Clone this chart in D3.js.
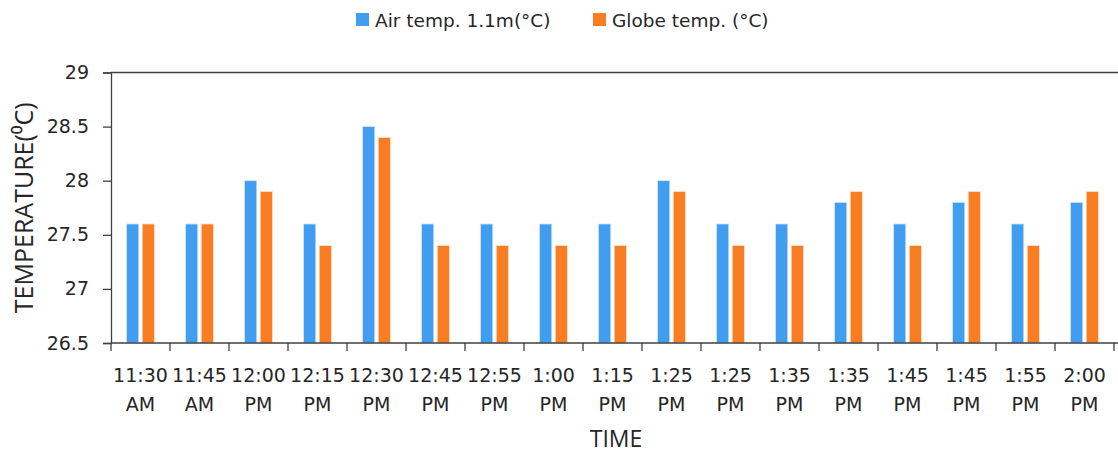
<!DOCTYPE html>
<html>
<head>
<meta charset="utf-8">
<script src="https://cdn.jsdelivr.net/npm/d3@7"></script>
<style>
  body { margin: 0; background: #fff; }
  svg text { font-family: "DejaVu Sans", sans-serif; fill: #262626; }
  svg text.title { font-family: "Open Sans", sans-serif; }
</style>
</head>
<body>
<script>
// categorieen (tijdstippen) en de twee reeksen
var times = ["11:30 AM", "11:45 AM", "12:00 PM", "12:15 PM", "12:30 PM", "12:45 PM", "12:55 PM", "1:00 PM", "1:15 PM", "1:25 PM", "1:25 PM", "1:35 PM", "1:35 PM", "1:45 PM", "1:45 PM", "1:55 PM", "2:00 PM"];
var airTemp = [27.6, 27.6, 28.0, 27.6, 28.5, 27.6, 27.6, 27.6, 27.6, 28.0, 27.6, 27.6, 27.8, 27.6, 27.8, 27.6, 27.8];
var globeTemp = [27.6, 27.6, 27.9, 27.4, 28.4, 27.4, 27.4, 27.4, 27.4, 27.9, 27.4, 27.4, 27.9, 27.4, 27.9, 27.4, 27.9];
var yTicks = [26.5, 27, 27.5, 28, 28.5, 29];
var seriesNames = ["Air temp. 1.1m(°C)", "Globe temp. (°C)"];
var seriesColors = ["#419DF0", "#F97D22"];

var width = 1118;
var height = 456;
var margin = {left: 111, right: 4, top: 72.5, bottom: 113};

var svg = d3.select("body").append("svg")
.attr("width", width)
.attr("height", height);

var x = d3.scaleBand()
.domain(d3.range(times.length))
.range([margin.left, width - margin.right]);

var y = d3.scaleLinear()
.domain([26.5, 29])
.range([height - margin.bottom, margin.top]);

var sub = d3.scaleBand()
.domain([0, 1])
.range([0, x.bandwidth()])
.paddingInner(0.22)
.paddingOuter(1.0);

// tabel met een rij per tijdstip
var rows = times.map((t, i) => ({i: i, vals: [airTemp[i], globeTemp[i]]}));

// bovenste lijn op 29
svg.append("line")
.attr("x1", margin.left).attr("x2", width)
.attr("y1", y(29)).attr("y2", y(29))
.attr("stroke", "#404040").attr("stroke-width", 1.3);

// balken
var groups = svg.selectAll("g.cat")
.data(rows)
.enter()
.append("g")
.attr("class", "cat")
.attr("transform", d => "translate(" + x(d.i) + ",0)");

groups.selectAll("rect")
.data(d => d.vals.map((v, k) => ({k: k, v: v})))
.enter()
.append("rect")
.attr("x", d => sub(d.k))
.attr("width", sub.bandwidth())
.attr("y", d => y(d.v))
.attr("height", d => y(26.5) - y(d.v))
.attr("fill", d => seriesColors[d.k])
.attr("stroke", d => d.k == 0 ? "#cfe6fb" : "#fde0c9")
.attr("stroke-width", 0.8);

// y-as
var yAxis = svg.append("g")
.attr("transform", "translate(" + margin.left + ",0)")
.call(d3.axisLeft(y).tickValues(yTicks).tickSize(8).tickPadding(14).tickFormat(d3.format("")));
yAxis.select(".domain").attr("stroke", "#404040").attr("stroke-width", 1.3);
yAxis.selectAll(".tick line").attr("stroke", "#404040").attr("stroke-width", 1.3);
yAxis.selectAll("text").style("font-size", "19px").attr("fill", "#262626");

// x-as met ticks tussen de categorieen
var xAxis = svg.append("g")
.attr("transform", "translate(0," + y(26.5) + ")");
xAxis.append("line")
.attr("x1", margin.left).attr("x2", width)
.attr("stroke", "#404040").attr("stroke-width", 1.3);
xAxis.selectAll("line.tk")
.data(d3.range(times.length + 1))
.enter()
.append("line")
.attr("class", "tk")
.attr("x1", d => d < times.length ? x(d) : x(d - 1) + x.bandwidth())
.attr("x2", d => d < times.length ? x(d) : x(d - 1) + x.bandwidth())
.attr("y1", 0).attr("y2", 8)
.attr("stroke", "#404040").attr("stroke-width", 1.3);

var labels = xAxis.selectAll("text.lbl")
.data(times)
.enter()
.append("text")
.attr("class", "lbl")
.attr("text-anchor", "middle")
.attr("x", (d, i) => x(i) + x.bandwidth() / 2)
.style("font-size", "19px");
labels.append("tspan").attr("x", (d, i) => x(i) + x.bandwidth() / 2).attr("y", 39).text(d => d.split(" ")[0]);
labels.append("tspan").attr("x", (d, i) => x(i) + x.bandwidth() / 2).attr("y", 68).text(d => d.split(" ")[1]);

// as-titels
svg.append("text")
.attr("class", "title")
.attr("x", 616)
.attr("y", 447)
.attr("text-anchor", "middle")
.style("font-size", "23px")
.text("TIME");

svg.append("text")
.attr("class", "title")
.attr("transform", "translate(33," + ((y(26.5) + y(29)) / 2) + ") rotate(-90)")
.attr("text-anchor", "middle")
.style("font-size", "25px")
.text("TEMPERATURE(⁰C)");

// legende
var legend = svg.append("g");
var legendX = [356, 593];
seriesNames.forEach((name, k) => {
  legend.append("rect")
  .attr("x", legendX[k]).attr("y", 13)
  .attr("width", 13).attr("height", 13)
  .attr("fill", seriesColors[k]);
  legend.append("text")
  .attr("x", legendX[k] + 19).attr("y", 26.5)
  .style("font-size", "18.5px")
  .text(name);
});
</script>
</body>
</html>
